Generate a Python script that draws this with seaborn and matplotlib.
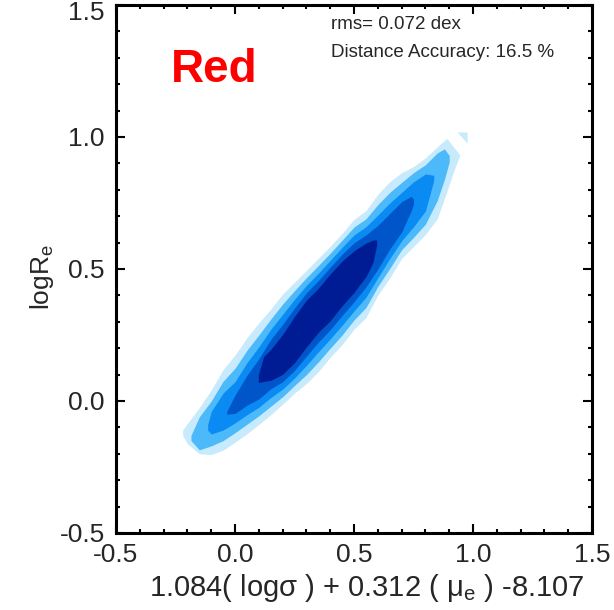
import numpy as np
import matplotlib
matplotlib.use("Agg")
import matplotlib.pyplot as plt
from matplotlib.ticker import MultipleLocator
from matplotlib.transforms import ScaledTranslation
import seaborn as sns

# ---- data: lower / upper y of each filled density level, read at x columns ----
lvl1_x  = [-0.22, -0.20, -0.15, -0.10, -0.05, 0.00, 0.05, 0.10, 0.15, 0.20, 0.25, 0.30, 0.35, 0.40,
           0.45, 0.50, 0.55, 0.60, 0.65, 0.70, 0.75, 0.80, 0.85, 0.89, 0.92, 0.945]
lvl1_lo = [-0.13, -0.162, -0.20, -0.203, -0.186, -0.156, -0.124, -0.089, -0.052, -0.012, 0.03, 0.066, 0.111, 0.166,
           0.214, 0.272, 0.316, 0.401, 0.466, 0.54, 0.585, 0.631, 0.691, 0.793, 0.873, 0.932]
lvl1_hi = [-0.11, -0.085, -0.025, 0.042, 0.119, 0.174, 0.24, 0.296, 0.348, 0.405, 0.45, 0.495, 0.541, 0.586,
           0.635, 0.688, 0.721, 0.783, 0.831, 0.865, 0.888, 0.921, 0.963, 0.995, 0.96, 0.932]

patch_x  = [0.933, 0.975]
patch_lo = [1.019, 0.977]
patch_hi = [1.019, 1.019]

lvl2_x  = [-0.185, -0.15, -0.10, -0.05, 0.00, 0.05, 0.10, 0.15, 0.20, 0.25, 0.30, 0.35, 0.40,
           0.45, 0.50, 0.55, 0.60, 0.65, 0.70, 0.75, 0.80, 0.85, 0.88, 0.90]
lvl2_lo = [-0.15, -0.185, -0.17, -0.15, -0.12, -0.088, -0.056, -0.02, 0.016, 0.059, 0.10, 0.148, 0.20,
           0.25, 0.307, 0.354, 0.434, 0.502, 0.573, 0.62, 0.67, 0.76, 0.84, 0.905]
lvl2_hi = [-0.13, -0.06, 0.0, 0.075, 0.124, 0.192, 0.25, 0.31, 0.367, 0.418, 0.467, 0.513, 0.56,
           0.609, 0.659, 0.69, 0.744, 0.79, 0.828, 0.865, 0.895, 0.94, 0.955, 0.93]

lvl3_x  = [-0.115, -0.10, -0.05, 0.00, 0.05, 0.10, 0.15, 0.20, 0.25, 0.30, 0.35, 0.40,
           0.45, 0.50, 0.55, 0.60, 0.65, 0.70, 0.75, 0.80, 0.835]
lvl3_lo = [-0.11, -0.125, -0.11, -0.083, -0.052, -0.024, 0.013, 0.045, 0.087, 0.135, 0.186, 0.235,
           0.287, 0.341, 0.393, 0.467, 0.539, 0.607, 0.66, 0.72, 0.835]
lvl3_hi = [-0.09, -0.04, 0.03, 0.073, 0.145, 0.205, 0.271, 0.328, 0.385, 0.438, 0.484, 0.533,
           0.582, 0.629, 0.66, 0.704, 0.75, 0.79, 0.83, 0.86, 0.855]

lvl4_x  = [-0.035, 0.00, 0.05, 0.10, 0.15, 0.20, 0.25, 0.30, 0.35, 0.40, 0.45, 0.50, 0.55,
           0.60, 0.65, 0.70, 0.74, 0.75]
lvl4_lo = [-0.05, -0.047, -0.016, 0.008, 0.046, 0.073, 0.116, 0.17, 0.223, 0.27, 0.324, 0.376, 0.432,
           0.50, 0.575, 0.64, 0.72, 0.745]
lvl4_hi = [-0.04, 0.022, 0.097, 0.16, 0.233, 0.29, 0.352, 0.41, 0.456, 0.507, 0.556, 0.599, 0.629,
           0.665, 0.71, 0.755, 0.775, 0.765]

lvl5_x  = [0.098, 0.12, 0.15, 0.20, 0.25, 0.30, 0.35, 0.40, 0.45, 0.50, 0.55, 0.58, 0.595]
lvl5_lo = [0.07, 0.074, 0.078, 0.101, 0.145, 0.205, 0.26, 0.304, 0.361, 0.411, 0.471, 0.525, 0.59]
lvl5_hi = [0.10, 0.168, 0.195, 0.252, 0.32, 0.382, 0.427, 0.481, 0.53, 0.569, 0.598, 0.61, 0.61]

level_colors = ["#c8eafd", "#4cb9fb", "#0a8af3", "#0055c8", "#001c95"]

x_ticks = [-0.5, 0.0, 0.5, 1.0, 1.5]
y_ticks = [-0.5, 0.0, 0.5, 1.0, 1.5]
tick_labels = ["-0.5", "0.0", "0.5", "1.0", "1.5"]

title_text = "Red"
rms_text = "rms= 0.072 dex"
acc_text = "Distance Accuracy: 16.5 %"
xlabel_text = r"1.084( log$\mathregular{\sigma}$ ) + 0.312 ( $\mathregular{\mu_e}$ ) -8.107"
ylabel_text = r"logR$_\mathregular{e}$"

# ---- style ----
sns.set_style("ticks")
plt.rcParams["font.family"] = ["Liberation Sans", "DejaVu Sans"]
plt.rcParams["mathtext.fontset"] = "custom"
plt.rcParams["mathtext.rm"] = "Liberation Sans"
plt.rcParams["mathtext.it"] = "Liberation Sans"

fig = plt.figure(figsize=(6.14, 6.10), dpi=100)
ax = fig.add_axes([116 / 614, 1 - 533 / 610, 476 / 614, 528 / 610])

levels = [
    (lvl1_x, lvl1_lo, lvl1_hi),
    (lvl2_x, lvl2_lo, lvl2_hi),
    (lvl3_x, lvl3_lo, lvl3_hi),
    (lvl4_x, lvl4_lo, lvl4_hi),
    (lvl5_x, lvl5_lo, lvl5_hi),
]
for i, (xs, lo, hi) in enumerate(levels):
    ax.fill_between(xs, lo, hi, color=level_colors[i], lw=0, zorder=2 + i)
ax.fill_between(patch_x, patch_lo, patch_hi, color=level_colors[0], lw=0, zorder=2)

ax.set_xlim(-0.5, 1.5)
ax.set_ylim(-0.5, 1.5)
ax.set_xticks(x_ticks)
ax.set_yticks(y_ticks)
ax.set_xticklabels(tick_labels)
ax.set_yticklabels(tick_labels)
ax.xaxis.set_minor_locator(MultipleLocator(0.1))
ax.yaxis.set_minor_locator(MultipleLocator(0.1))
ax.tick_params(which="both", direction="in", top=True, right=True,
               color="black", width=1.5, labelsize=19)
ax.tick_params(which="major", length=6.5)
ax.tick_params(which="minor", length=3.2)
ax.tick_params(axis="x", which="major", pad=7)
ax.tick_params(axis="y", which="major", pad=8)
for s in ax.spines.values():
    s.set_linewidth(2.2)
    s.set_color("black")
    s.set_zorder(10)

# keep the top y tick label inside the figure
top_lbl = ax.yaxis.get_major_ticks()[-1].label1
top_lbl.set_transform(top_lbl.get_transform() + ScaledTranslation(0, -0.05, fig.dpi_scale_trans))

ax.set_xlabel(xlabel_text, fontsize=21)
ax.xaxis.set_label_coords((367 - 116) / 476, (533 - 572) / 528)
ax.set_ylabel(ylabel_text, fontsize=19)
ax.yaxis.set_label_coords((56 - 116) / 476, (533 - 277) / 528)

ax.text((171 - 116) / 476, (533 - 82) / 528, title_text, transform=ax.transAxes,
        color="#ff0000", fontsize=33, fontweight="bold", ha="left", va="baseline")
ax.text((331 - 116) / 476, (533 - 29) / 528, rms_text, transform=ax.transAxes,
        fontsize=13.5, ha="left", va="baseline")
ax.text((331 - 116) / 476, (533 - 57) / 528, acc_text, transform=ax.transAxes,
        fontsize=13.5, ha="left", va="baseline")

fig.savefig("out.png", dpi=100)
